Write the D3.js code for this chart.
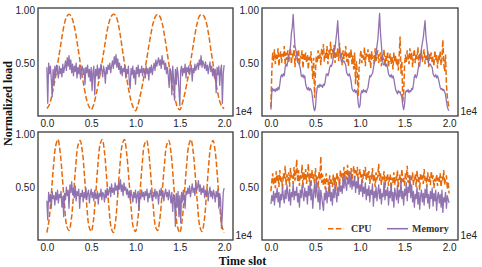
<!DOCTYPE html>
<html>
<head>
<meta charset="utf-8">
<script src="https://cdn.jsdelivr.net/npm/d3@7"></script>
<style>
  html, body { margin: 0; padding: 0; background: #fff; }
  svg { display: block; }
</style>
</head>
<body>
<svg id="chart" width="482" height="267"></svg>
<script>
// ---------- DATA (time slot in units of 1e4) ----------
const smoothStep = 0.025;   // sampling step of the smooth CPU traces
const denseStep = 0.01;     // sampling step of the noisy traces

const xTickValues = [0, 0.5, 1.0, 1.5, 2.0];
const xTickLabels = ["0.0", "0.5", "1.0", "1.5", "2.0"];
const yTickValues = [0.5, 1.0];
const yTickLabels = ["0.50", "1.00"];
const seriesNames = ["CPU", "Memory"];

// top-left
const cpuTopLeft = [
  0.07,0.10,0.17,0.27,0.38,0.51,0.64,0.77,0.88,0.94,0.96,0.94,0.88,0.78,0.65,0.51,0.37,0.25,0.15,0.09,
  0.06,0.10,0.18,0.28,0.39,0.52,0.65,0.78,0.88,0.94,0.96,0.95,0.89,0.78,0.64,0.50,0.36,0.24,0.14,0.08,
  0.05,0.10,0.18,0.28,0.40,0.53,0.66,0.78,0.88,0.94,0.96,0.94,0.88,0.77,0.64,0.50,0.37,0.25,0.15,0.08,
  0.06,0.11,0.19,0.29,0.40,0.53,0.66,0.79,0.89,0.95,0.96,0.94,0.88,0.77,0.63,0.49,0.35,0.23,0.14,0.09,
  0.07];
const memTopLeft = [
  0.46,0.12,0.50,0.40,0.47,0.35,0.18,0.44,0.30,0.47,
  0.39,0.48,0.42,0.36,0.47,0.40,0.45,0.37,0.49,0.41,
  0.46,0.52,0.43,0.55,0.47,0.57,0.44,0.53,0.41,0.49,
  0.38,0.47,0.42,0.50,0.36,0.46,0.40,0.48,0.35,0.44,
  0.47,0.39,0.45,0.30,0.46,0.41,0.48,0.37,0.44,0.33,
  0.46,0.24,0.42,0.47,0.20,0.44,0.38,0.48,0.35,0.45,
  0.40,0.49,0.43,0.37,0.47,0.42,0.31,0.46,0.40,0.48,
  0.44,0.50,0.41,0.47,0.52,0.45,0.56,0.49,0.58,0.46,
  0.54,0.44,0.50,0.40,0.47,0.38,0.45,0.42,0.48,0.36,
  0.44,0.40,0.47,0.33,0.26,0.45,0.39,0.47,0.36,0.43,
  0.30,0.46,0.40,0.48,0.37,0.44,0.41,0.47,0.38,0.45,
  0.42,0.36,0.47,0.40,0.45,0.34,0.46,0.41,0.48,0.39,
  0.45,0.50,0.43,0.53,0.47,0.51,0.55,0.48,0.53,0.45,
  0.57,0.49,0.52,0.44,0.50,0.40,0.46,0.38,0.27,0.45,
  0.42,0.20,0.47,0.35,0.15,0.44,0.30,0.46,0.40,0.25,
  0.10,0.43,0.47,0.38,0.45,0.41,0.49,0.36,0.46,0.42,
  0.47,0.39,0.44,0.48,0.33,0.45,0.41,0.49,0.43,0.47,
  0.50,0.44,0.53,0.48,0.57,0.46,0.52,0.49,0.45,0.51,
  0.43,0.48,0.40,0.46,0.51,0.42,0.47,0.38,0.45,0.36,
  0.44,0.22,0.46,0.39,0.47,0.29,0.43,0.48,0.12,0.40,
  0.48];

// top-right
const cpuTopRight = [
  0.08,0.42,0.60,0.52,0.63,0.49,0.58,0.54,0.64,0.47,
  0.57,0.61,0.50,0.59,0.55,0.66,0.48,0.60,0.53,0.62,
  0.51,0.57,0.64,0.49,0.59,0.55,0.67,0.46,0.58,0.61,
  0.52,0.63,0.48,0.57,0.54,0.62,0.45,0.59,0.53,0.60,
  0.50,0.58,0.44,0.56,0.52,0.61,0.47,0.35,0.55,0.17,
  0.42,0.57,0.50,0.62,0.54,0.59,0.48,0.64,0.56,0.68,
  0.51,0.60,0.55,0.66,0.49,0.62,0.57,0.70,0.53,0.63,
  0.58,0.67,0.50,0.61,0.56,0.64,0.52,0.69,0.55,0.60,
  0.48,0.62,0.54,0.58,0.66,0.51,0.59,0.47,0.61,0.55,
  0.63,0.49,0.57,0.44,0.60,0.30,0.52,0.39,0.19,0.46,
  0.55,0.62,0.50,0.58,0.53,0.65,0.47,0.60,0.56,0.63,
  0.51,0.59,0.45,0.61,0.54,0.57,0.49,0.64,0.52,0.58,
  0.62,0.50,0.56,0.60,0.47,0.58,0.53,0.63,0.48,0.57,
  0.52,0.61,0.46,0.55,0.59,0.49,0.56,0.44,0.60,0.51,
  0.57,0.48,0.54,0.43,0.58,0.75,0.40,0.52,0.13,0.22,
  0.47,0.58,0.51,0.62,0.55,0.49,0.64,0.53,0.60,0.46,
  0.57,0.63,0.50,0.59,0.54,0.65,0.48,0.60,0.55,0.62,
  0.51,0.58,0.63,0.49,0.57,0.53,0.61,0.46,0.59,0.54,
  0.60,0.50,0.56,0.47,0.62,0.53,0.58,0.45,0.57,0.52,
  0.61,0.48,0.55,0.72,0.50,0.42,0.58,0.30,0.18,0.12,
  0.08];
const memTopRight = [
  0.06,0.22,0.26,0.24,0.25,0.23,0.26,0.24,0.27,0.25,
  0.30,0.37,0.39,0.37,0.40,0.38,0.46,0.49,0.47,0.52,
  0.55,0.60,0.66,0.78,0.84,0.96,0.80,0.66,0.62,0.58,
  0.51,0.50,0.48,0.45,0.38,0.37,0.39,0.36,0.38,0.30,
  0.27,0.25,0.27,0.24,0.26,0.25,0.22,0.15,0.08,0.05,
  0.08,0.20,0.27,0.29,0.27,0.30,0.28,0.29,0.27,0.30,
  0.29,0.33,0.39,0.40,0.38,0.41,0.46,0.48,0.47,0.50,
  0.55,0.61,0.64,0.72,0.80,0.90,0.74,0.63,0.56,0.52,
  0.53,0.51,0.52,0.50,0.48,0.41,0.39,0.38,0.40,0.37,
  0.33,0.26,0.24,0.23,0.25,0.22,0.24,0.21,0.12,0.08,
  0.10,0.21,0.24,0.22,0.25,0.23,0.24,0.22,0.25,0.27,
  0.33,0.38,0.37,0.39,0.40,0.45,0.50,0.52,0.58,0.66,
  0.72,0.84,0.97,0.78,0.67,0.55,0.49,0.48,0.50,0.47,
  0.49,0.45,0.40,0.38,0.37,0.39,0.36,0.38,0.35,0.30,
  0.25,0.23,0.21,0.24,0.22,0.23,0.20,0.18,0.10,0.06,
  0.11,0.22,0.24,0.23,0.25,0.22,0.24,0.23,0.26,0.25,
  0.30,0.37,0.39,0.36,0.38,0.43,0.48,0.47,0.55,0.64,
  0.69,0.74,0.82,0.90,0.75,0.68,0.60,0.50,0.48,0.49,
  0.47,0.46,0.40,0.38,0.37,0.39,0.36,0.38,0.35,0.31,
  0.27,0.25,0.26,0.24,0.25,0.23,0.20,0.14,0.09,0.06,
  0.05];

// bottom-left
const cpuBottomLeft = [
  0.07,0.19,0.43,0.70,0.89,0.95,0.83,0.59,0.32,0.13,
  0.09,0.19,0.42,0.69,0.89,0.94,0.84,0.60,0.33,0.13,
  0.08,0.18,0.42,0.70,0.90,0.95,0.83,0.58,0.31,0.12,
  0.07,0.18,0.43,0.71,0.90,0.95,0.82,0.58,0.31,0.12,
  0.08,0.19,0.44,0.71,0.90,0.94,0.82,0.58,0.32,0.13,
  0.09,0.20,0.44,0.70,0.89,0.94,0.83,0.59,0.32,0.12,
  0.07,0.18,0.42,0.69,0.89,0.95,0.84,0.60,0.33,0.13,
  0.08,0.18,0.42,0.70,0.89,0.94,0.83,0.59,0.32,0.13,
  0.07];
const memBottomLeft = [
  0.37,0.19,0.45,0.36,0.43,0.30,0.46,0.39,0.42,0.33,
  0.45,0.38,0.47,0.35,0.43,0.40,0.46,0.31,0.41,0.22,
  0.44,0.38,0.50,0.42,0.47,0.30,0.52,0.45,0.55,0.43,
  0.49,0.40,0.51,0.37,0.46,0.42,0.48,0.30,0.44,0.41,
  0.47,0.36,0.45,0.40,0.49,0.38,0.44,0.47,0.35,0.43,
  0.48,0.40,0.45,0.37,0.47,0.42,0.39,0.46,0.34,0.44,
  0.41,0.48,0.38,0.45,0.43,0.36,0.47,0.40,0.49,0.42,
  0.46,0.50,0.41,0.53,0.45,0.49,0.43,0.54,0.47,0.51,
  0.44,0.55,0.48,0.57,0.46,0.52,0.42,0.54,0.47,0.50,
  0.43,0.48,0.40,0.46,0.38,0.47,0.42,0.36,0.45,0.40,
  0.47,0.35,0.43,0.46,0.28,0.44,0.39,0.47,0.41,0.45,
  0.38,0.46,0.42,0.48,0.36,0.44,0.40,0.47,0.43,0.37,
  0.45,0.41,0.48,0.39,0.46,0.43,0.34,0.47,0.42,0.49,
  0.40,0.46,0.37,0.44,0.48,0.41,0.45,0.38,0.47,0.42,
  0.35,0.45,0.27,0.43,0.40,0.13,0.44,0.31,0.46,0.22,
  0.42,0.16,0.45,0.36,0.47,0.40,0.30,0.46,0.43,0.49,
  0.44,0.51,0.41,0.47,0.53,0.45,0.49,0.42,0.54,0.47,
  0.50,0.56,0.46,0.52,0.43,0.49,0.45,0.51,0.40,0.47,
  0.42,0.48,0.37,0.45,0.50,0.41,0.46,0.39,0.47,0.43,
  0.36,0.46,0.41,0.48,0.30,0.44,0.38,0.11,0.24,0.45,
  0.49];

// bottom-right
const cpuBottomRight = [
  0.46,0.55,0.63,0.52,0.60,0.49,0.65,0.55,0.61,0.50,
  0.66,0.54,0.59,0.48,0.63,0.57,0.70,0.52,0.62,0.56,
  0.64,0.50,0.68,0.58,0.61,0.53,0.69,0.56,0.63,0.76,
  0.55,0.66,0.51,0.62,0.58,0.71,0.49,0.64,0.57,0.67,
  0.53,0.61,0.72,0.55,0.63,0.50,0.66,0.58,0.62,0.52,
  0.68,0.56,0.60,0.49,0.65,0.57,0.79,0.54,0.62,0.51,
  0.59,0.48,0.63,0.55,0.58,0.46,0.61,0.53,0.57,0.50,
  0.62,0.52,0.59,0.47,0.64,0.56,0.60,0.51,0.66,0.58,
  0.63,0.55,0.69,0.60,0.65,0.57,0.71,0.59,0.66,0.62,
  0.68,0.56,0.64,0.70,0.58,0.66,0.61,0.69,0.55,0.63,
  0.67,0.58,0.62,0.54,0.66,0.60,0.69,0.56,0.64,0.59,
  0.65,0.53,0.61,0.57,0.68,0.55,0.62,0.50,0.64,0.58,
  0.60,0.72,0.56,0.63,0.52,0.61,0.57,0.65,0.49,0.60,
  0.55,0.63,0.51,0.58,0.62,0.48,0.59,0.54,0.64,0.52,
  0.60,0.56,0.66,0.50,0.58,0.62,0.53,0.67,0.55,0.59,
  0.51,0.63,0.57,0.70,0.54,0.61,0.49,0.60,0.56,0.64,
  0.52,0.58,0.62,0.50,0.66,0.55,0.60,0.47,0.63,0.57,
  0.61,0.53,0.67,0.56,0.59,0.50,0.64,0.55,0.60,0.52,
  0.65,0.57,0.61,0.49,0.58,0.54,0.62,0.51,0.59,0.55,
  0.63,0.50,0.60,0.56,0.66,0.52,0.58,0.61,0.48,0.55,
  0.44];
const memBottomRight = [
  0.34,0.42,0.37,0.46,0.33,0.44,0.40,0.49,0.36,0.45,
  0.31,0.43,0.38,0.50,0.41,0.35,0.47,0.39,0.52,0.44,
  0.37,0.48,0.33,0.45,0.41,0.53,0.38,0.46,0.42,0.50,
  0.36,0.44,0.31,0.47,0.40,0.52,0.43,0.37,0.49,0.41,
  0.46,0.34,0.51,0.42,0.55,0.38,0.48,0.30,0.45,0.53,
  0.40,0.56,0.43,0.36,0.50,0.29,0.47,0.41,0.34,0.28,
  0.44,0.38,0.49,0.35,0.46,0.41,0.52,0.37,0.45,0.33,
  0.48,0.40,0.53,0.43,0.36,0.50,0.42,0.55,0.46,0.51,
  0.44,0.58,0.49,0.61,0.52,0.47,0.59,0.53,0.62,0.50,
  0.64,0.48,0.56,0.51,0.60,0.45,0.55,0.49,0.58,0.43,
  0.52,0.46,0.57,0.41,0.50,0.44,0.54,0.38,0.48,0.42,
  0.51,0.36,0.47,0.43,0.53,0.32,0.46,0.40,0.50,0.37,
  0.45,0.52,0.39,0.48,0.34,0.44,0.41,0.55,0.38,0.47,
  0.42,0.50,0.33,0.46,0.40,0.53,0.37,0.45,0.31,0.49,
  0.43,0.38,0.52,0.35,0.47,0.41,0.56,0.39,0.46,0.33,
  0.48,0.42,0.54,0.37,0.50,0.45,0.61,0.40,0.52,0.36,
  0.46,0.31,0.43,0.39,0.50,0.34,0.45,0.29,0.42,0.47,
  0.36,0.44,0.33,0.48,0.40,0.51,0.35,0.43,0.30,0.46,
  0.39,0.49,0.32,0.44,0.37,0.47,0.28,0.41,0.45,0.35,
  0.43,0.31,0.47,0.26,0.40,0.36,0.45,0.30,0.42,0.38,
  0.35];

// ---------- STYLE / LAYOUT ----------
const cpuColor = "#e66a0a";
const memColor = "#8b6bab";
const frameColor = "#3a3a3a";
const tickFont = "'Liberation Sans', Arial, sans-serif";
const labelFont = "'Liberation Serif', 'Times New Roman', serif";

const panels = [
  { left: 38,  right: 233, top: 8,   bottom: 116, cpu: cpuTopLeft,     cpuSmooth: true,  mem: memTopLeft },
  { left: 262, right: 458, top: 8,   bottom: 116, cpu: cpuTopRight,    cpuSmooth: false, mem: memTopRight },
  { left: 38,  right: 233, top: 132, bottom: 240, cpu: cpuBottomLeft,  cpuSmooth: true,  mem: memBottomLeft },
  { left: 262, right: 458, top: 132, bottom: 240, cpu: cpuBottomRight, cpuSmooth: false, mem: memBottomRight, legend: true }
];

const svg = d3.select("#chart");

panels.forEach(p => {
  const x = d3.scaleLinear().domain([-0.1, 2.1]).range([p.left, p.right]);
  const y = d3.scaleLinear().domain([0, 1.02]).range([p.bottom, p.top]);
  const g = svg.append("g");

  const cpuStep = p.cpuSmooth ? smoothStep : denseStep;
  const cpuLine = d3.line()
    .x((d, i) => x(i * cpuStep))
    .y(d => y(d))
    .curve(p.cpuSmooth ? d3.curveCatmullRom.alpha(0.5) : d3.curveLinear);
  const memLine = d3.line()
    .x((d, i) => x(i * denseStep))
    .y(d => y(d));

  g.append("path").datum(p.cpu)
    .attr("d", cpuLine)
    .attr("fill", "none")
    .attr("stroke", cpuColor)
    .attr("stroke-width", 1.5)
    .attr("stroke-dasharray", "5.5,2.4");

  g.append("path").datum(p.mem)
    .attr("d", memLine)
    .attr("fill", "none")
    .attr("stroke", memColor)
    .attr("stroke-width", 1.3)
    .attr("stroke-opacity", 0.95)
    .attr("stroke-linejoin", "round");

  // axes
  const xAxis = d3.axisBottom(x).tickValues(xTickValues)
    .tickFormat((d, i) => xTickLabels[i]).tickSize(0).tickPadding(4);
  const ax = g.append("g").attr("transform", `translate(0,${p.bottom})`).call(xAxis);
  ax.select(".domain").remove();
  ax.selectAll("text").attr("font-family", tickFont).attr("font-size", 10).attr("fill", "#222");

  const yAxis = d3.axisLeft(y).tickValues(yTickValues)
    .tickFormat((d, i) => yTickLabels[i]).tickSize(0).tickPadding(3);
  const ay = g.append("g").attr("transform", `translate(${p.left},0)`).call(yAxis);
  ay.select(".domain").remove();
  ay.selectAll("text").attr("font-family", tickFont).attr("font-size", 10).attr("fill", "#222");

  // offset text
  g.append("text")
    .attr("x", p.right + 2.5)
    .attr("y", p.bottom - 1.5)
    .attr("font-family", tickFont)
    .attr("font-size", 10)
    .attr("fill", "#222")
    .text("1e4");

  // frame
  g.append("rect")
    .attr("x", p.left).attr("y", p.top)
    .attr("width", p.right - p.left).attr("height", p.bottom - p.top)
    .attr("fill", "none")
    .attr("stroke", frameColor)
    .attr("stroke-width", 1.3);

  if (p.legend) {
    const ly = 228.7;
    const lg = g.append("g");
    lg.append("line").attr("x1", 328).attr("x2", 344).attr("y1", ly).attr("y2", ly)
      .attr("stroke", cpuColor).attr("stroke-width", 1.5).attr("stroke-dasharray", "5.5,2.4");
    lg.append("text").attr("x", 351).attr("y", 232).text(seriesNames[0])
      .attr("font-family", labelFont).attr("font-weight", "bold").attr("font-size", 10).attr("fill", "#333");
    lg.append("line").attr("x1", 387).attr("x2", 408).attr("y1", ly).attr("y2", ly)
      .attr("stroke", memColor).attr("stroke-width", 1.5);
    lg.append("text").attr("x", 412).attr("y", 232).text(seriesNames[1])
      .attr("font-family", labelFont).attr("font-weight", "bold").attr("font-size", 10).attr("fill", "#333");
  }
});

// shared axis titles
svg.append("text")
  .attr("transform", "translate(12,103.5) rotate(-90)")
  .attr("text-anchor", "middle")
  .attr("font-family", labelFont).attr("font-weight", "bold").attr("font-size", 12).attr("fill", "#111")
  .text("Normalized load");

svg.append("text")
  .attr("x", 242.5).attr("y", 264.5)
  .attr("text-anchor", "middle")
  .attr("font-family", labelFont).attr("font-weight", "bold").attr("font-size", 12).attr("fill", "#111")
  .text("Time slot");
</script>
</body>
</html>
